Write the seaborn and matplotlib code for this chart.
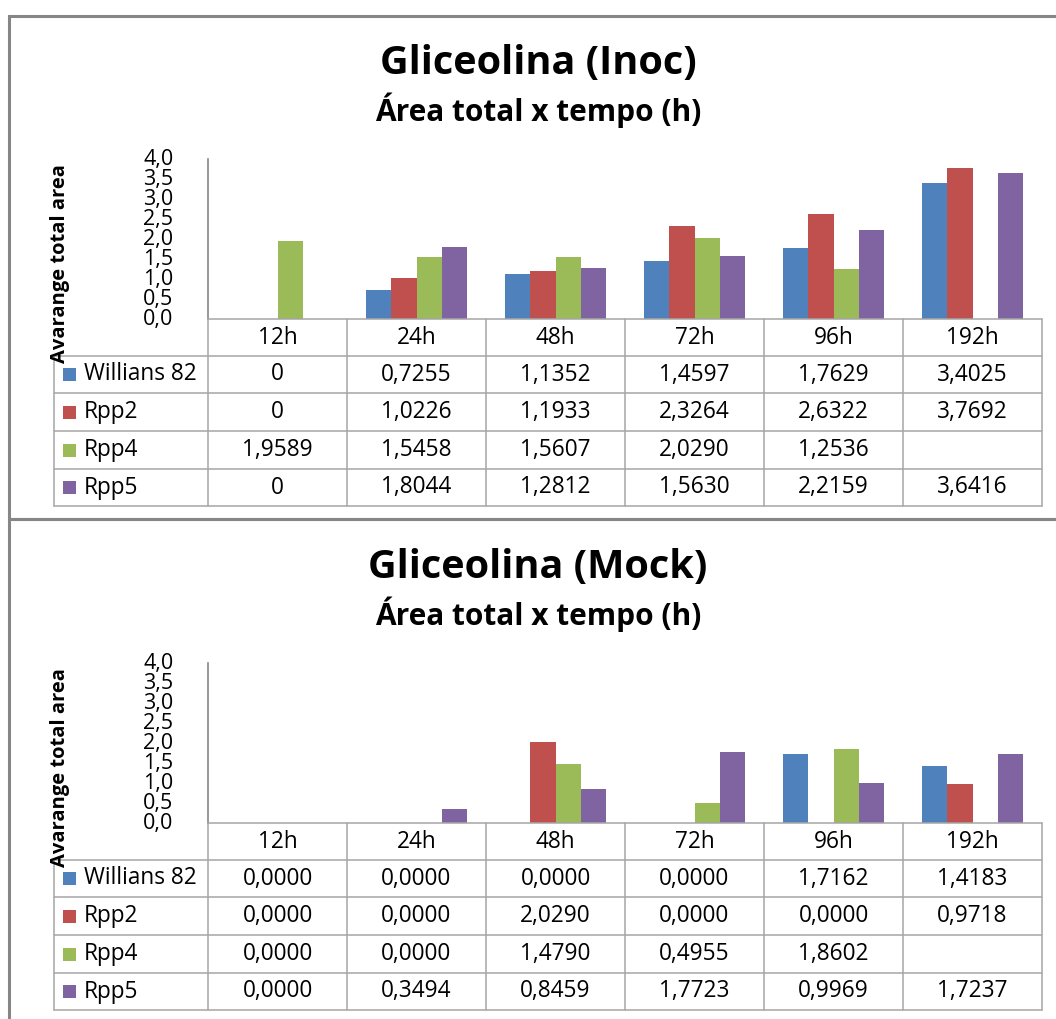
import numpy as np
import pandas as pd
import matplotlib
matplotlib.use("Agg")
import matplotlib.pyplot as plt
from matplotlib.patches import Rectangle
from matplotlib.lines import Line2D
import seaborn as sns

# ---------------- data ----------------
times = ["12h", "24h", "48h", "72h", "96h", "192h"]
series = ["Willians 82", "Rpp2", "Rpp4", "Rpp5"]
colors = ["#4F81BD", "#C0504D", "#9BBB59", "#8064A2"]

inoc_willians82 = [0, 0.7255, 1.1352, 1.4597, 1.7629, 3.4025]
inoc_rpp2 = [0, 1.0226, 1.1933, 2.3264, 2.6322, 3.7692]
inoc_rpp4 = [1.9589, 1.5458, 1.5607, 2.0290, 1.2536, np.nan]
inoc_rpp5 = [0, 1.8044, 1.2812, 1.5630, 2.2159, 3.6416]

mock_willians82 = [0.0, 0.0, 0.0, 0.0, 1.7162, 1.4183]
mock_rpp2 = [0.0, 0.0, 2.0290, 0.0, 0.0, 0.9718]
mock_rpp4 = [0.0, 0.0, 1.4790, 0.4955, 1.8602, np.nan]
mock_rpp5 = [0.0, 0.3494, 0.8459, 1.7723, 0.9969, 1.7237]

y_ticks = [0, 0.5, 1.0, 1.5, 2.0, 2.5, 3.0, 3.5, 4.0]
title_inoc = "Gliceolina (Inoc)"
title_mock = "Gliceolina (Mock)"
subtitle = "Área total x tempo (h)"
ylabel = "Avarange total area"

W, H = 1056, 1019
FONT = ["Open Sans", "DejaVu Sans"]
sns.set_theme(style="white")
plt.rcParams["font.family"] = FONT

fig = plt.figure(figsize=(W / 100, H / 100), dpi=100)
fig.patch.set_facecolor("white")

def fx(x):
    return x / W

def fy(y):
    return 1 - y / H

GRID = "#A6A6A6"
FRAME = "#868686"
TXT = 16.3

# chart frames
fig.patches.append(Rectangle((fx(9), fy(519)), fx(1100), fy(16) - fy(519),
                             transform=fig.transFigure, fill=False,
                             edgecolor=FRAME, linewidth=2.2, zorder=0))
fig.patches.append(Rectangle((fx(9), fy(1040)), fx(1100), fy(519) - fy(1040),
                             transform=fig.transFigure, fill=False,
                             edgecolor=FRAME, linewidth=2.2, zorder=0))

def fmt_inoc(v):
    if np.isnan(v):
        return ""
    if v == 0:
        return "0"
    return f"{v:.4f}".replace(".", ",")

def fmt_mock(v):
    if np.isnan(v):
        return ""
    return f"{v:.4f}".replace(".", ",")

def draw_chart(top, vals, title, fmt):
    ax_top = top + 143
    ax_bot = top + 303
    x0, x1 = 208, 1042
    fig.text(fx(538), fy(top + 47), title, ha="center", va="center",
             fontsize=28.5, fontweight="bold", color="black")
    fig.text(fx(538), fy(top + 94), subtitle, ha="center", va="center",
             fontsize=21.5, fontweight="bold", color="black")

    ax = fig.add_axes([fx(x0), fy(ax_bot), fx(x1) - fx(x0), fy(ax_top) - fy(ax_bot)])
    df = pd.DataFrame({
        "time": [t for s in series for t in times],
        "series": [s for s in series for _ in times],
        "value": [v for arr in vals for v in arr],
    })
    sns.barplot(data=df, x="time", y="value", hue="series", order=times,
                hue_order=series, palette=colors, width=4 / 5.5, gap=0,
                saturation=1, errorbar=None, legend=False, ax=ax,
                linewidth=0, zorder=3)
    ax.set_xlim(-0.5, len(times) - 0.5)
    ax.set_ylim(0, 4)
    ax.set_yticks(y_ticks)
    ax.set_yticklabels([f"{t:.1f}".replace(".", ",") for t in y_ticks],
                       fontsize=15.5, color="black")
    ax.tick_params(axis="y", length=0, pad=25)
    ax.tick_params(axis="x", length=0, labelbottom=False)
    ax.set_xlabel("")
    ax.set_ylabel("")
    for s in ["top", "right", "bottom"]:
        ax.spines[s].set_visible(False)
    ax.spines["left"].set_color(FRAME)
    ax.spines["left"].set_linewidth(1.2)
    ax.set_facecolor("none")
    for lab in ax.get_yticklabels():
        lab.set_verticalalignment("center")

    fig.text(fx(60), fy(top + 248), ylabel, rotation=90, ha="center", va="center",
             fontsize=14.5, fontweight="bold", color="black")

    # data table
    hdr_top = ax_bot
    rows = [hdr_top, hdr_top + 37, hdr_top + 74, hdr_top + 112, hdr_top + 150, hdr_top + 187]
    cols = [x0 + i * (x1 - x0) / len(times) for i in range(len(times) + 1)]
    lw = 1.1
    fig.lines.append(Line2D([fx(x0), fx(x1)], [fy(rows[0])] * 2, transform=fig.transFigure,
                            color=GRID, linewidth=lw))
    for r in rows[1:]:
        fig.lines.append(Line2D([fx(54), fx(x1)], [fy(r)] * 2, transform=fig.transFigure,
                                color=GRID, linewidth=lw))
    for c in cols:
        fig.lines.append(Line2D([fx(c)] * 2, [fy(rows[0]), fy(rows[-1])],
                                transform=fig.transFigure, color=GRID, linewidth=lw))
    fig.lines.append(Line2D([fx(54)] * 2, [fy(rows[1]), fy(rows[-1])],
                            transform=fig.transFigure, color=GRID, linewidth=lw))
    for j, t in enumerate(times):
        cx = (cols[j] + cols[j + 1]) / 2
        fig.text(fx(cx), fy((rows[0] + rows[1]) / 2), t, ha="center", va="center",
                 fontsize=TXT, color="black")
    for i, s in enumerate(series):
        cy = (rows[i + 1] + rows[i + 2]) / 2
        fig.patches.append(Rectangle((fx(63), fy(cy + 6.5)), fx(13), fy(cy - 6.5) - fy(cy + 6.5),
                                     transform=fig.transFigure, facecolor=colors[i],
                                     edgecolor="none"))
        fig.text(fx(84), fy(cy), s, ha="left", va="center", fontsize=TXT, color="black")
        for j in range(len(times)):
            cx = (cols[j] + cols[j + 1]) / 2
            fig.text(fx(cx), fy(cy), fmt(vals[i][j]), ha="center", va="center",
                     fontsize=TXT, color="black")

draw_chart(16, [inoc_willians82, inoc_rpp2, inoc_rpp4, inoc_rpp5], title_inoc, fmt_inoc)
draw_chart(520, [mock_willians82, mock_rpp2, mock_rpp4, mock_rpp5], title_mock, fmt_mock)

fig.savefig("out.png", dpi=100, facecolor="white")
